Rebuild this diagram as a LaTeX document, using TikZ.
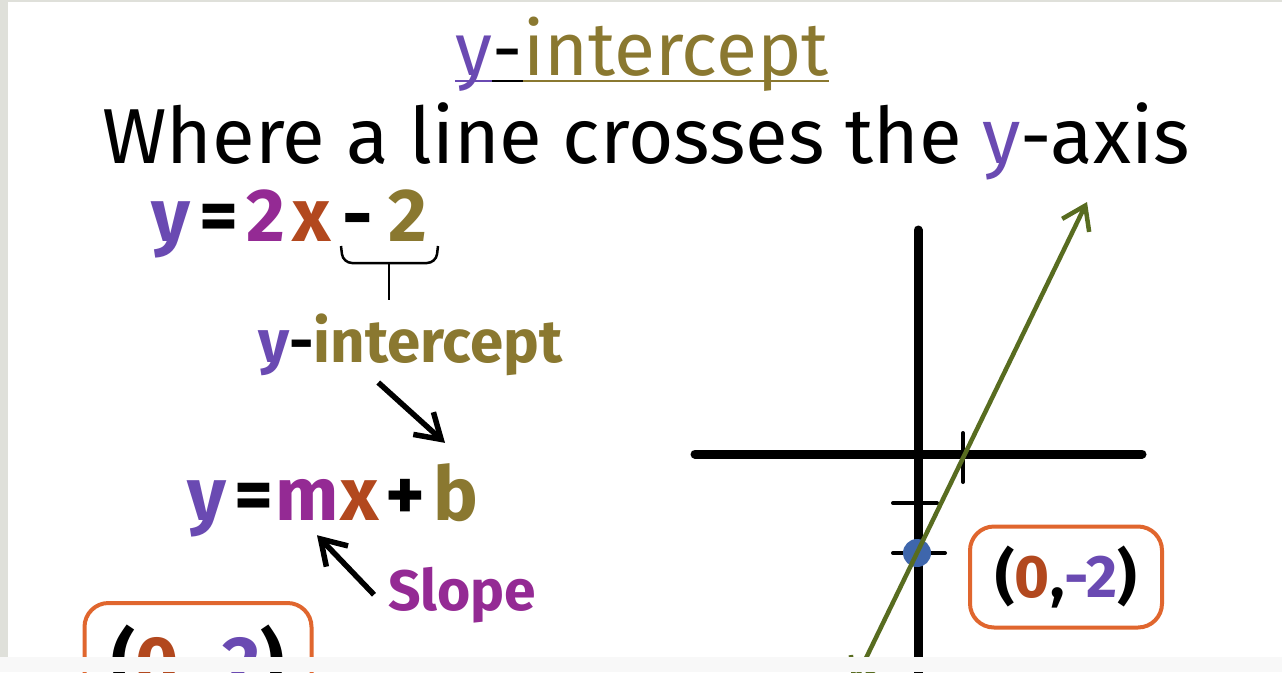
\documentclass[tikz,border=0pt]{standalone}
\usepackage{fontspec}
\setmainfont{Fira Sans}
\usetikzlibrary{arrows.meta,positioning}
\definecolor{ypurple}{RGB}{106,74,178}
\definecolor{mmagenta}{RGB}{148,42,148}
\definecolor{xbrown}{RGB}{178,72,30}
\definecolor{olive}{RGB}{138,120,48}
\definecolor{lgreen}{RGB}{88,108,32}
\definecolor{boxorange}{RGB}{224,102,46}
\definecolor{dotblue}{RGB}{62,102,172}
\definecolor{edgegray}{RGB}{223,224,218}
\definecolor{stripgray}{RGB}{248,248,248}

\begin{document}
\begin{tikzpicture}[x=1pt, y=-1pt,
  title/.style={inner sep=0pt, anchor=base west, font=\fontsize{75}{80}\selectfont},
  sub/.style={inner sep=0pt, anchor=base, font=\fontsize{78}{84}\selectfont},
  part/.style={inner sep=0pt, anchor=base, font=\fontsize{75}{80}\selectfont\bfseries},
  lbl/.style={inner sep=0pt, anchor=base west, font=\fontsize{60}{66}\selectfont\bfseries},
  arr/.style={line width=5.5pt, -{Straight Barb[length=24pt,width=30pt]}},
  axis/.style={line width=9pt, line cap=round},
  tick/.style={line width=4pt, line cap=round},
  ptbox/.style={draw=boxorange, line width=4pt, rounded corners=24pt,
                inner sep=0pt, font=\fontsize{60}{66}\selectfont\bfseries}]
\useasboundingbox (0,0) rectangle (1282,672);
\clip (0,0) rectangle (1282,672);
\fill[white] (0,0) rectangle (1282,672);
\fill[edgegray] (0,0) rectangle (8,672);
\fill[edgegray] (0,0) rectangle (1282,2);

% heading
\node[title, ypurple] (ttly) at (455,75) {y};
\node[title] (ttld) at (ttly.base east) {-};
\node[title, olive] (ttli) at (ttld.base east) {intercept};
\draw[ypurple, line width=2.5pt] ([yshift=-6pt]ttly.base west) -- ([yshift=-6pt]ttly.base east);
\draw[line width=2.5pt] ([yshift=-6pt]ttld.base west) -- ([yshift=-6pt]ttld.base east);
\draw[olive, line width=2.5pt] ([yshift=-6pt]ttli.base west) -- ([yshift=-6pt]ttli.base east);
\node[sub] (where) at (646,163) {Where a line crosses the \textcolor{ypurple}{y}-axis};

% y = 2x - 2
\node[part, ypurple] (e1y) at (171,241) {y};
\node[part] (e1eq) at (219,241) {=};
\node[part, mmagenta] (e1two) at (266,241) {2};
\node[part, xbrown] (e1x) at (312,241) {x};
\node[part] (e1minus) at (358,241) {-};
\node[part, olive] (e1c) at (408,241) {2};
\draw[line width=2.5pt, rounded corners=9pt] (341,246) -- (343,263) -- (436,263) -- (438,246);
\coordinate (brc) at (389,263);
\draw[line width=2pt] (brc) -- ++(0,37);
\node[lbl] (yint) at (258,362) {\textcolor{ypurple}{y}-\textcolor{olive}{intercept}};

% y = mx + b
\node[part, ypurple] (e2y) at (207,520) {y};
\node[part] (e2eq) at (254,520) {=};
\node[part, mmagenta] (m) at (307,520) {m};
\node[part, xbrown] (e2x) at (360,520) {x};
\node[part] (e2plus) at (405,520) {+};
\node[part, olive] (b) at (456,520) {b};
\node[lbl, mmagenta, font=\fontsize{57}{62}\selectfont\bfseries] (slope) at (388,610) {Slope};
\draw[arr] ([xshift=-32pt,yshift=-7pt]yint.south) -- ([xshift=-11pt,yshift=20pt]b.north);
\draw[arr] ([xshift=-14pt]slope.west) -- ([xshift=10pt,yshift=-15pt]m.south);

% points
\node[ptbox, minimum width=227pt, minimum height=120pt, font=\fontsize{74}{80}\selectfont\bfseries]
  (ptl) at (198,663) {\raisebox{10pt}{(\textcolor{xbrown}{0},\textcolor{ypurple}{-2})}};
\node[ptbox, minimum width=192pt, minimum height=101pt] (ptr) at (1066,577)
  {(\textcolor{xbrown}{0},\textcolor{ypurple}{-2})};

% graph
\draw[axis] (695,454) -- (1142,454);
\draw[axis] (918,230) -- (918,700);
\draw[tick] (963,433) -- (963,482);
\draw[tick] (893,503) -- (937,503);
\draw[tick] (893,553) -- (945,553);
\fill[dotblue] (917,553) circle (14pt);
\coordinate (lnlo) at (853,685);
\coordinate (lnhi) at (1087,202);
\draw[lgreen, line width=4.5pt, {Straight Barb[length=22pt,width=30pt]}-{Straight Barb[length=22pt,width=30pt]}] (lnlo) -- (lnhi);

\fill[stripgray] (0,657) rectangle (1282,672);
\end{tikzpicture}
\end{document}
